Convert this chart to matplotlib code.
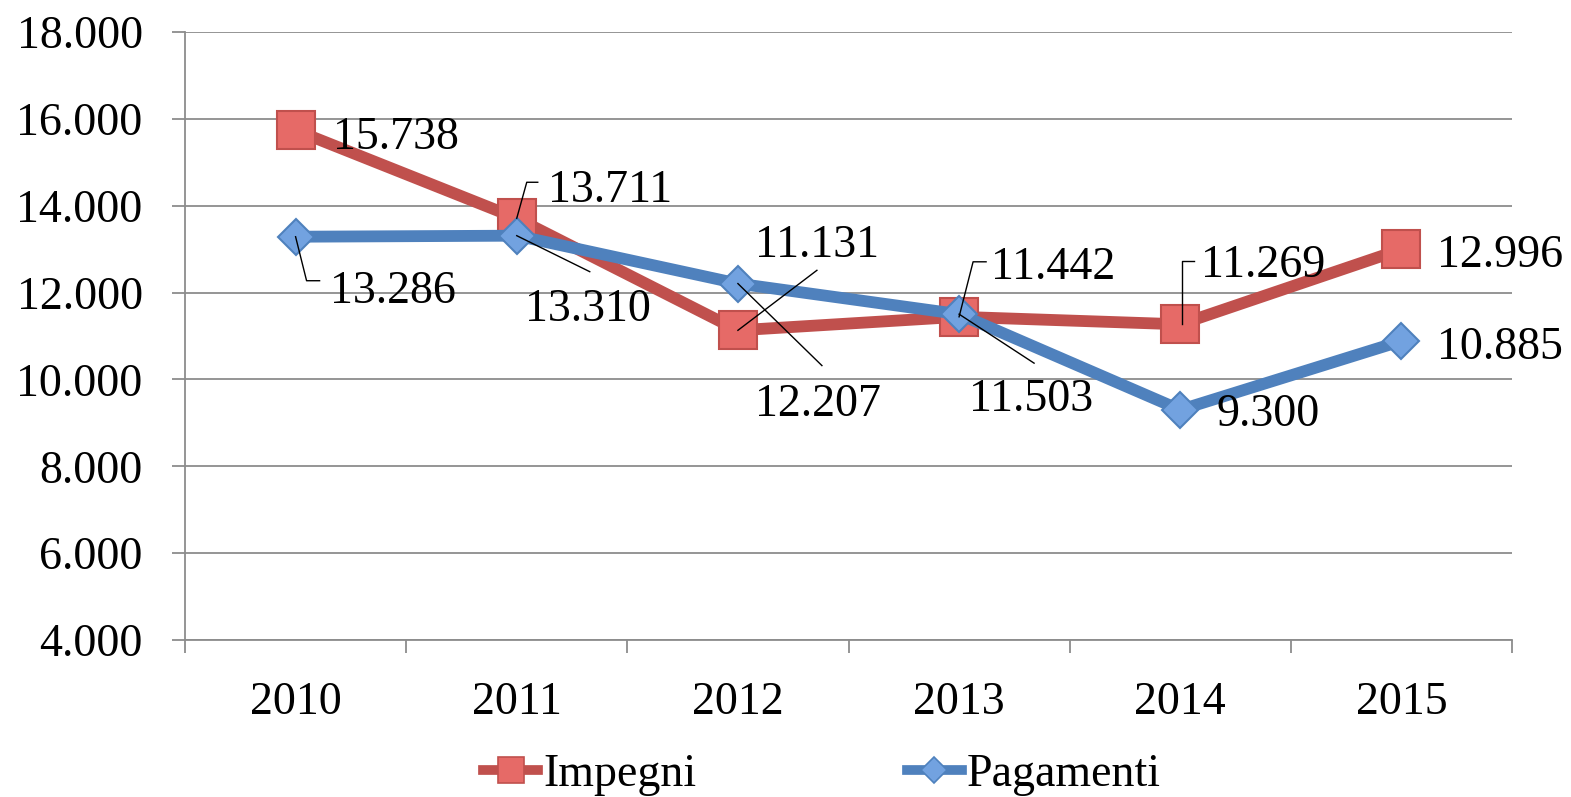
import matplotlib
matplotlib.use("Agg")
import matplotlib.pyplot as plt
import matplotlib.transforms as mtransforms
from matplotlib.lines import Line2D
from matplotlib.ticker import FuncFormatter, FixedLocator

plt.rcParams['font.family'] = ['Liberation Serif', 'DejaVu Serif']

# Data
anni = ['2010', '2011', '2012', '2013', '2014', '2015']
impegni = [15738, 13711, 11131, 11442, 11269, 12996]
pagamenti = [13286, 13310, 12207, 11503, 9300, 10885]

# label offsets in pixels (dx, dy) and leader line vertices
imp_off = [(37, -3), (31, 33), (17, 90), (32, 54), (21, 64), (36, -1)]
imp_lead = [None, [(0, 0), (10, 36), (21, 36)], [(0, 0), (79, 60)],
            [(0, 0), (14, 55), (27, 55)], [(2, 0), (2, 63), (14, 63)], None]
pag_off = [(34, -50), (8, -69), (17, -116), (10, -81), (36, 0), (36, -2)]
pag_lead = [[(0, 0), (11, -44), (24, -44)], [(0, 0), (73, -36)], [(0, 0), (84, -82)],
            [(0, 0), (75, -49)], None, None]

red = '#C0504D'
red_face = '#E66A67'
blue = '#4F81BD'
blue_face = '#72A2E0'
FS = 33


def fmt(v, pos=None):
    return f'{int(v):,}'.replace(',', '.')


fig = plt.figure(figsize=(15.71, 7.97), dpi=100)
ax = fig.add_axes([185 / 1571, 1 - 640 / 797, 1327 / 1571, 608 / 797])

x = [i + 0.5 for i in range(len(anni))]
ax.plot(x, impegni, color=red, lw=8.5, marker='s', ms=27,
        mfc=red_face, mec=red, mew=1.5, zorder=3, clip_on=False)
ax.plot(x, pagamenti, color=blue, lw=8.5, marker='D', ms=18.5,
        mfc=blue_face, mec=blue, mew=1.5, zorder=4, clip_on=False)

ax.set_xlim(0, 6)
ax.set_ylim(4000, 18000)
ax.set_yticks(range(4000, 18001, 2000))
ax.yaxis.set_major_formatter(FuncFormatter(fmt))
ax.set_xticks(x)
ax.set_xticklabels(anni)
ax.xaxis.set_minor_locator(FixedLocator(range(7)))
ax.tick_params(axis='x', which='major', length=0, pad=30, labelsize=FS)
ax.tick_params(axis='x', which='minor', length=9.5, width=1.3, color='#8c8c8c')
ax.tick_params(axis='y', length=9.5, width=1.3, color='#8c8c8c', pad=21, labelsize=FS)

ax.grid(axis='y', color='#8c8c8c', lw=1.3)
ax.set_axisbelow(True)
for s in ['top', 'right']:
    ax.spines[s].set_visible(False)
for s in ['left', 'bottom']:
    ax.spines[s].set_color('#8c8c8c')
    ax.spines[s].set_linewidth(1.3)


def labels(vals, offs, leads):
    for xi, v, off, lead in zip(x, vals, offs, leads):
        ax.annotate(fmt(v), (xi, v), xytext=off, textcoords='offset pixels',
                    ha='left', va='center_baseline', fontsize=FS, zorder=6)
        if lead:
            tr = mtransforms.ScaledTranslation(xi, v, ax.transData)
            ln = Line2D([p[0] for p in lead], [p[1] for p in lead], color='black',
                        lw=1.0, transform=tr, zorder=6, clip_on=False)
            ax.add_artist(ln)


labels(impegni, imp_off, imp_lead)
labels(pagamenti, pag_off, pag_lead)

handles = [
    Line2D([], [], color=red, lw=7, marker='s', ms=19, mfc=red_face, mec=red, mew=1.2),
    Line2D([], [], color=blue, lw=7, marker='D', ms=13, mfc=blue_face, mec=blue, mew=1.2),
]
fig.legend(handles, ['Impegni', 'Pagamenti'], loc='center',
           bbox_to_anchor=(822 / 1571, 1 - 775 / 797), ncol=2, frameon=False,
           fontsize=FS, handlelength=1.2, handletextpad=0.1, columnspacing=4.6)

fig.savefig('out.png', dpi=100)
